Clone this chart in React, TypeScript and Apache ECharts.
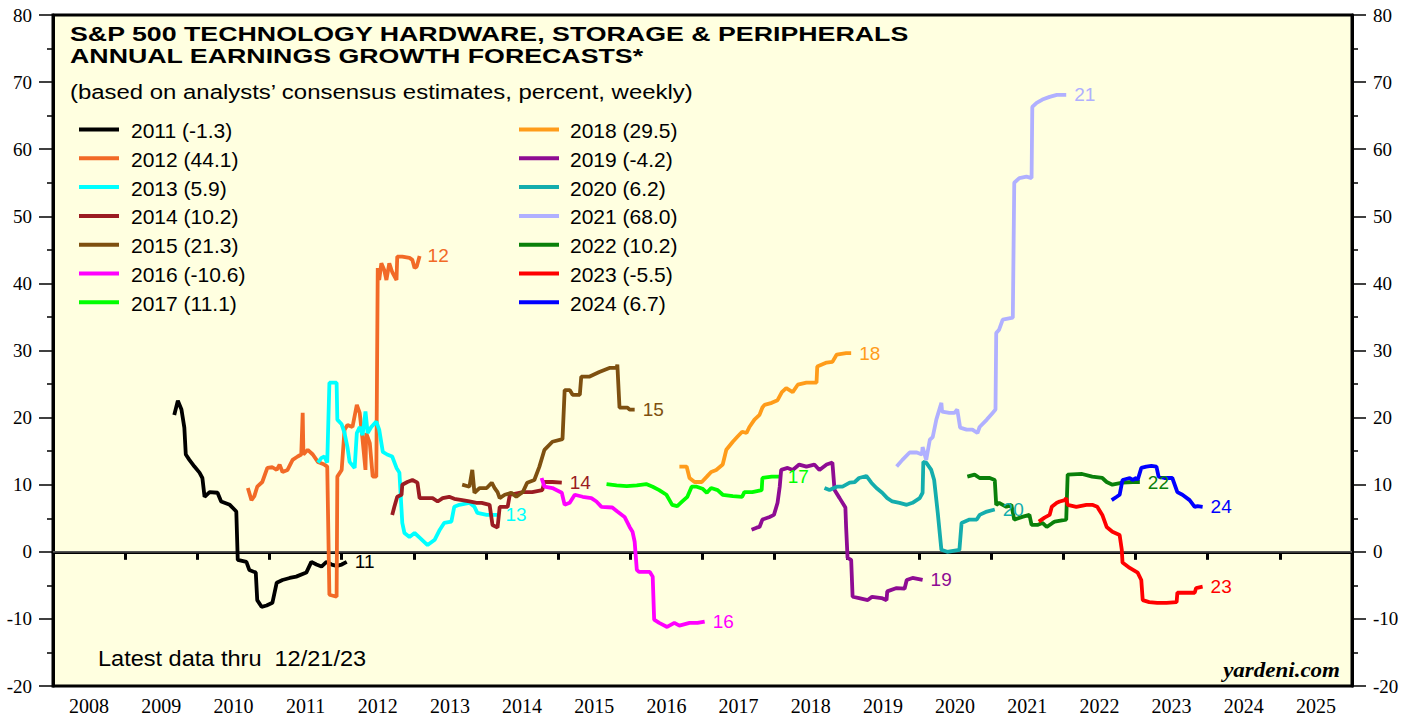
import React, { useEffect, useRef } from "react";
import * as echarts from "echarts";

const years = ["2008","2009","2010","2011","2012","2013","2014","2015","2016","2017","2018","2019","2020","2021","2022","2023","2024","2025"];
const seriesNames = ["2011","2012","2013","2014","2015","2016","2017","2018","2019","2020","2021","2022","2023","2024"];
const endTags = ["11","12","13","14","15","16","17","18","19","20","21","22","23","24"];
const finalValues = [-1.3, 44.1, 5.9, 10.2, 21.3, -10.6, 11.1, 29.5, -4.2, 6.2, 68.0, 10.2, -5.5, 6.7];
const seriesColors = ["#000000","#F26A27","#00FFFF","#9B1C22","#7E5010","#FF00FF","#00FF00","#FF9C1A","#8E0C93","#14ADAD","#B0B0FF","#0A800A","#FF0000","#0000FF"];
const zeroLine = [[2008, 0], [2026, 0]];

const s2011 = [[2009.68,20.4],[2009.73,22.5],[2009.78,21.2],[2009.82,18.5],[2009.84,14.5],[2009.89,13.7],[2009.96,12.7],[2010.03,11.8],[2010.07,11.0],[2010.10,8.2],[2010.17,8.9],[2010.28,8.8],[2010.33,7.5],[2010.45,7.0],[2010.54,6.0],[2010.56,-1.2],[2010.68,-1.5],[2010.72,-2.7],[2010.81,-3.1],[2010.83,-7.2],[2010.89,-8.2],[2010.96,-8.0],[2011.04,-7.6],[2011.10,-4.6],[2011.18,-4.2],[2011.28,-3.9],[2011.37,-3.7],[2011.51,-3.1],[2011.58,-1.5],[2011.65,-1.9],[2011.72,-2.2],[2011.79,-1.5],[2011.86,-1.9],[2011.93,-2.1],[2012.00,-1.9],[2012.07,-1.5]];
const s2012 = [[2010.70,9.5],[2010.75,7.7],[2010.79,8.3],[2010.83,9.7],[2010.90,10.4],[2010.97,12.5],[2011.04,12.6],[2011.10,12.2],[2011.14,13.0],[2011.18,11.9],[2011.25,12.2],[2011.32,13.7],[2011.39,14.2],[2011.44,14.5],[2011.46,20.7],[2011.47,14.5],[2011.53,15.2],[2011.60,14.5],[2011.67,13.4],[2011.76,13.0],[2011.80,12.7],[2011.83,-6.4],[2011.93,-6.7],[2011.94,11.2],[2012.00,12.2],[2012.04,18.2],[2012.08,18.9],[2012.15,18.6],[2012.21,21.9],[2012.25,20.7],[2012.29,16.7],[2012.33,12.2],[2012.34,17.7],[2012.39,16.2],[2012.43,11.2],[2012.48,11.2],[2012.50,42.3],[2012.52,40.5],[2012.55,43.0],[2012.59,42.0],[2012.62,40.5],[2012.66,43.0],[2012.70,41.7],[2012.76,40.5],[2012.77,44.0],[2012.84,44.0],[2012.94,43.8],[2012.98,43.5],[2013.01,42.3],[2013.04,42.5],[2013.08,44.1]];
const s2013 = [[2011.67,13.3],[2011.72,14.0],[2011.76,14.2],[2011.80,13.3],[2011.83,25.2],[2011.93,25.2],[2011.94,19.7],[2012.00,19.0],[2012.04,17.7],[2012.08,15.6],[2012.11,13.4],[2012.18,12.5],[2012.21,17.7],[2012.25,18.6],[2012.29,17.4],[2012.33,20.9],[2012.36,17.7],[2012.41,18.6],[2012.48,19.4],[2012.52,18.2],[2012.57,14.9],[2012.63,14.5],[2012.70,14.2],[2012.76,12.5],[2012.80,11.8],[2012.84,4.3],[2012.87,2.8],[2012.94,2.2],[2013.01,2.8],[2013.08,2.1],[2013.19,1.0],[2013.29,1.8],[2013.36,3.3],[2013.42,4.3],[2013.52,4.5],[2013.56,6.7],[2013.63,7.0],[2013.77,7.3],[2013.84,6.7],[2013.88,5.8],[2014.01,5.5],[2014.16,5.5]];
const s2014 = [[2012.70,5.5],[2012.73,6.7],[2012.77,8.2],[2012.83,8.5],[2012.84,10.0],[2012.91,10.4],[2012.98,10.7],[2013.05,10.3],[2013.08,8.0],[2013.15,8.0],[2013.26,8.0],[2013.33,7.5],[2013.40,8.0],[2013.49,8.2],[2013.56,7.9],[2013.67,7.7],[2013.77,7.5],[2013.87,7.3],[2013.94,7.3],[2014.05,7.0],[2014.09,4.0],[2014.16,3.6],[2014.19,6.7],[2014.30,6.7],[2014.33,8.5],[2014.51,8.9],[2014.64,8.9],[2014.78,9.2],[2014.81,10.4],[2014.92,10.4],[2015.05,10.3]];
const s2015 = [[2013.67,10.0],[2013.77,9.7],[2013.81,12.2],[2013.84,8.8],[2013.91,9.5],[2014.01,9.5],[2014.08,10.3],[2014.12,9.5],[2014.16,8.9],[2014.19,8.0],[2014.26,8.5],[2014.35,8.8],[2014.42,8.2],[2014.51,8.9],[2014.57,10.3],[2014.67,10.7],[2014.74,12.7],[2014.81,15.2],[2014.92,16.4],[2015.06,16.8],[2015.09,24.1],[2015.16,24.1],[2015.20,23.4],[2015.30,23.4],[2015.32,26.1],[2015.43,26.1],[2015.57,26.8],[2015.71,27.4],[2015.81,27.4],[2015.82,27.9],[2015.85,21.5],[2015.96,21.5],[2015.99,21.2],[2016.06,21.2]];
const s2016 = [[2014.77,11.0],[2014.81,9.7],[2014.92,9.5],[2015.05,8.8],[2015.09,7.0],[2015.16,7.3],[2015.23,8.5],[2015.34,8.2],[2015.46,8.0],[2015.53,7.5],[2015.60,6.7],[2015.75,6.6],[2015.82,6.0],[2015.92,5.2],[2015.99,3.7],[2016.03,3.0],[2016.06,1.5],[2016.09,-2.7],[2016.12,-3.0],[2016.27,-3.0],[2016.31,-3.7],[2016.33,-10.1],[2016.40,-10.6],[2016.51,-11.2],[2016.61,-10.6],[2016.68,-11.0],[2016.82,-10.6],[2016.93,-10.6],[2017.03,-10.4]];
const s2017 = [[2015.67,10.1],[2015.81,9.9],[2015.95,9.8],[2016.09,9.9],[2016.22,10.1],[2016.31,9.7],[2016.40,9.2],[2016.50,8.5],[2016.58,7.0],[2016.65,6.8],[2016.72,7.5],[2016.79,8.2],[2016.85,9.7],[2016.92,9.7],[2017.00,9.4],[2017.06,8.8],[2017.12,9.5],[2017.21,9.2],[2017.28,8.5],[2017.42,8.3],[2017.55,8.2],[2017.58,8.9],[2017.69,8.9],[2017.82,9.2],[2017.83,11.0],[2017.96,11.2],[2018.07,11.2]];
const s2018 = [[2016.68,12.7],[2016.78,12.7],[2016.82,11.0],[2016.89,10.4],[2016.99,10.4],[2017.06,11.2],[2017.12,11.9],[2017.19,12.2],[2017.28,13.0],[2017.33,15.2],[2017.42,16.4],[2017.48,17.1],[2017.55,17.9],[2017.61,17.7],[2017.65,18.6],[2017.72,19.7],[2017.79,20.4],[2017.83,21.5],[2017.86,21.9],[2017.96,22.2],[2018.04,22.6],[2018.10,23.8],[2018.16,24.4],[2018.25,23.8],[2018.32,24.9],[2018.44,25.2],[2018.58,25.2],[2018.59,27.6],[2018.72,28.2],[2018.80,28.3],[2018.86,29.4],[2018.99,29.6],[2019.06,29.6]];
const s2019 = [[2017.68,3.3],[2017.75,3.6],[2017.79,3.7],[2017.83,4.8],[2017.93,5.2],[2017.99,5.5],[2018.04,7.3],[2018.07,9.7],[2018.09,12.2],[2018.18,12.5],[2018.25,12.2],[2018.34,13.0],[2018.44,12.7],[2018.55,13.0],[2018.62,12.2],[2018.72,13.0],[2018.80,13.3],[2018.83,9.2],[2018.90,8.0],[2018.98,6.6],[2018.99,3.7],[2019.01,-0.9],[2019.06,-1.2],[2019.08,-6.7],[2019.17,-6.9],[2019.29,-7.2],[2019.35,-6.7],[2019.48,-6.9],[2019.55,-7.2],[2019.56,-5.9],[2019.69,-5.4],[2019.80,-5.5],[2019.83,-4.2],[2019.91,-3.9],[2020.05,-4.2]];
const s2020 = [[2018.69,9.5],[2018.76,9.2],[2018.86,9.7],[2018.94,9.7],[2019.04,10.3],[2019.11,10.4],[2019.17,11.0],[2019.27,11.3],[2019.34,10.3],[2019.41,9.5],[2019.49,8.8],[2019.56,8.0],[2019.63,7.5],[2019.73,7.3],[2019.83,7.0],[2019.91,7.3],[2020.01,8.0],[2020.05,8.8],[2020.06,13.4],[2020.10,13.3],[2020.17,12.2],[2020.21,10.7],[2020.26,5.8],[2020.31,0.3],[2020.39,0.0],[2020.56,0.3],[2020.59,4.3],[2020.70,4.8],[2020.80,4.8],[2020.84,5.5],[2020.94,6.0],[2021.05,6.3]];
const s2021 = [[2019.69,12.7],[2019.77,13.7],[2019.87,14.8],[2019.97,14.8],[2020.04,14.5],[2020.05,15.6],[2020.10,13.7],[2020.15,16.7],[2020.19,17.1],[2020.24,19.7],[2020.31,22.2],[2020.32,20.9],[2020.42,20.7],[2020.49,20.7],[2020.53,21.2],[2020.57,18.5],[2020.66,18.2],[2020.74,18.2],[2020.81,17.7],[2020.84,18.6],[2020.94,19.7],[2021.02,20.7],[2021.06,21.2],[2021.07,32.6],[2021.11,33.1],[2021.16,34.6],[2021.30,34.9],[2021.32,55.0],[2021.39,55.7],[2021.49,55.9],[2021.56,55.7],[2021.57,66.3],[2021.63,66.9],[2021.71,67.4],[2021.81,67.8],[2021.91,68.1],[2022.04,68.1]];
const s2022 = [[2020.67,11.2],[2020.77,11.5],[2020.84,11.0],[2020.98,11.0],[2021.05,10.7],[2021.07,7.0],[2021.11,7.3],[2021.21,6.7],[2021.28,7.0],[2021.32,4.8],[2021.43,5.2],[2021.53,5.5],[2021.56,4.0],[2021.64,4.0],[2021.71,4.3],[2021.77,3.7],[2021.85,4.3],[2021.88,4.5],[2022.04,4.8],[2022.06,11.5],[2022.26,11.6],[2022.40,11.2],[2022.54,11.0],[2022.60,10.4],[2022.68,10.0],[2022.82,10.3],[2022.96,10.4],[2023.06,10.4]];
const s2023 = [[2021.66,4.5],[2021.74,5.1],[2021.81,5.5],[2021.84,6.7],[2021.91,7.3],[2021.95,7.5],[2022.02,7.7],[2022.04,8.0],[2022.06,7.0],[2022.18,6.7],[2022.32,7.0],[2022.40,7.0],[2022.47,6.7],[2022.54,5.5],[2022.60,3.7],[2022.68,3.0],[2022.78,2.5],[2022.81,0.3],[2022.82,-1.6],[2022.92,-2.4],[2023.03,-3.1],[2023.08,-4.2],[2023.10,-7.2],[2023.19,-7.5],[2023.30,-7.6],[2023.43,-7.6],[2023.57,-7.5],[2023.58,-6.1],[2023.75,-6.1],[2023.82,-6.1],[2023.84,-5.4],[2023.93,-5.2]];
const s2024 = [[2022.67,7.7],[2022.74,8.2],[2022.78,8.5],[2022.82,10.7],[2022.92,11.0],[2022.96,10.7],[2023.01,11.0],[2023.03,10.7],[2023.08,12.5],[2023.15,12.7],[2023.22,12.8],[2023.29,12.7],[2023.32,11.2],[2023.40,11.0],[2023.51,11.0],[2023.58,8.9],[2023.65,8.5],[2023.75,7.7],[2023.82,6.7],[2023.86,6.8],[2023.93,6.7]];

const seriesData = [s2011, s2012, s2013, s2014, s2015, s2016, s2017, s2018, s2019, s2020, s2021, s2022, s2023, s2024];

const SANS = "Liberation Sans, Arial, Helvetica, sans-serif";
const SERIF = "Liberation Serif, Times New Roman, serif";

function buildOption() {
  const series: any[] = [
    {
      type: "line",
      name: "zero",
      data: zeroLine,
      symbol: "none",
      showSymbol: false,
      silent: true,
      z: 1,
      lineStyle: { color: "#707070", width: 1.2 },
      itemStyle: { color: "#707070" },
    },
  ];
  seriesData.forEach((d, i) => {
    series.push({
      type: "line",
      name: seriesNames[i],
      data: d,
      xAxisIndex: 0,
      yAxisIndex: 0,
      symbol: "none",
      showSymbol: false,
      silent: true,
      z: 2,
      lineStyle: { color: seriesColors[i], width: 3.8 },
      itemStyle: { color: seriesColors[i] },
      endLabel: {
        show: true,
        formatter: endTags[i],
        color: seriesColors[i],
        fontSize: 19,
        fontFamily: SANS,
        distance: 8,
      },
    });
  });

  const graphic: any[] = [
    { type: "text", x: 70, y: 33.7, scaleX: 1.305, style: { text: "S&P 500 TECHNOLOGY HARDWARE, STORAGE & PERIPHERALS", fill: "#000", font: `bold 20.5px ${SANS}`, textAlign: "left", verticalAlign: "middle", textVerticalAlign: "middle" } },
    { type: "text", x: 70, y: 55.3, scaleX: 1.305, style: { text: "ANNUAL EARNINGS GROWTH FORECASTS*", fill: "#000", font: `bold 20.5px ${SANS}`, textAlign: "left", verticalAlign: "middle", textVerticalAlign: "middle" } },
    { type: "text", x: 70, y: 92.5, scaleX: 1.14, style: { text: "(based on analysts\u2019 consensus estimates, percent, weekly)", fill: "#000", font: `21px ${SANS}`, textAlign: "left", verticalAlign: "middle", textVerticalAlign: "middle" } },
    { type: "text", x: 98, y: 658, scaleX: 1.07, style: { text: "Latest data thru  12/21/23", fill: "#000", font: `22px ${SANS}`, textAlign: "left", verticalAlign: "middle", textVerticalAlign: "middle" } },
    { type: "text", x: 1340, y: 671, scaleX: 1.15, style: { text: "yardeni.com", fill: "#000", font: `italic bold 20px ${SERIF}`, textAlign: "right", verticalAlign: "middle", textVerticalAlign: "middle" } },
  ];

  seriesNames.forEach((name, i) => {
    const col = i < 7 ? 0 : 1;
    const row = i % 7;
    const y = 129.5 + row * 28.8;
    const lx = col === 0 ? 79 : 519;
    const tx = col === 0 ? 131 : 570;
    graphic.push({ type: "line", shape: { x1: lx, y1: y, x2: lx + 40, y2: y }, style: { stroke: seriesColors[i], lineWidth: 4 } });
    graphic.push({ type: "text", x: tx, y: y + 1, style: { text: `${name} (${finalValues[i].toFixed(1)})`, fill: "#000", font: `21px ${SANS}`, textAlign: "left", verticalAlign: "middle", textVerticalAlign: "middle" } });
  });

  const yAxisCommon = {
    type: "value",
    min: -20,
    max: 80,
    interval: 10,
    axisLine: { show: true, lineStyle: { color: "#000", width: 3 } },
    axisTick: { show: true, inside: false, length: 14, lineStyle: { color: "#000", width: 1.5 } },
    minorTick: { show: true, splitNumber: 2, length: 6, lineStyle: { color: "#000", width: 1.5 } },
    splitLine: { show: false },
    minorSplitLine: { show: false },
  };

  return {
    animation: false,
    backgroundColor: "#ffffff",
    grid: { left: 53, right: 64, top: 15, bottom: 31, show: true, backgroundColor: "#FFFFE0", borderColor: "#000", borderWidth: 3 },
    xAxis: [
      {
        type: "value",
        min: 2008,
        max: 2026,
        interval: 1,
        position: "bottom",
        axisLine: { show: true, lineStyle: { color: "#000", width: 3 } },
        axisTick: { show: true, inside: false, length: 8, lineStyle: { color: "#000", width: 3 } },
        axisLabel: { show: false },
        splitLine: { show: false },
      },
      {
        type: "category",
        data: years,
        position: "bottom",
        boundaryGap: true,
        axisLine: { show: false },
        axisTick: { show: false },
        axisLabel: { show: true, interval: 0, fontFamily: SERIF, fontSize: 20, color: "#000", margin: 10 },
        splitLine: { show: false },
      },
    ],
    yAxis: [
      { ...yAxisCommon, position: "left", axisLabel: { fontFamily: SERIF, fontSize: 19, color: "#000", margin: 21 } },
      { ...yAxisCommon, position: "right", axisLabel: { fontFamily: SERIF, fontSize: 19, color: "#000", margin: 21 } },
    ],
    series,
    graphic,
  };
}

export default function App() {
  const ref = useRef<HTMLDivElement>(null);
  useEffect(() => {
    if (!ref.current) return;
    const chart = echarts.init(ref.current, undefined, { renderer: "svg" });
    chart.setOption(buildOption() as any);
    return () => chart.dispose();
  }, []);
  return <div ref={ref} style={{ position: "fixed", left: 0, top: 0, width: 1416, height: 717, background: "#fff" }} />;
}
